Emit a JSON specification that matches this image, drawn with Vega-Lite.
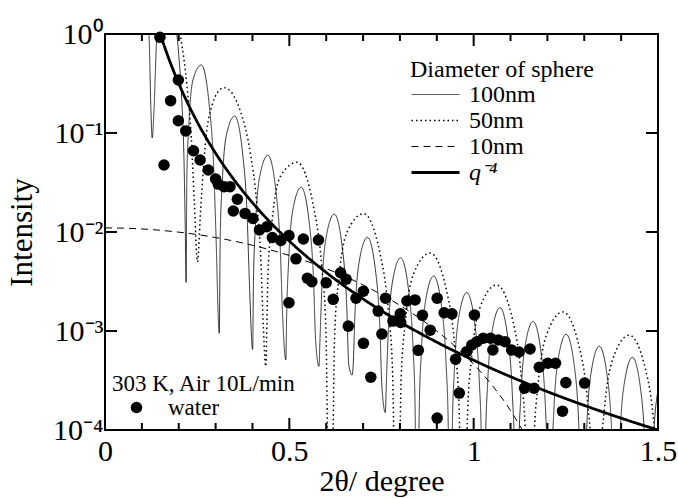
{
"$schema":"https://vega.github.io/schema/vega-lite/v6.json",
"width":553,"height":396,
"autosize":{"type":"none"},
"padding":{"left":105,"top":34,"right":20,"bottom":69},
"background":"white",
"config":{
 "view":{"stroke":"black","strokeWidth":2},
 "font":"Liberation Serif, Times New Roman, serif",
 "axis":{"grid":false,"domain":false,"ticks":false,"labelColor":"black","titleColor":"black","labelFont":"Liberation Serif, Times New Roman, serif","titleFont":"Liberation Serif, Times New Roman, serif","titleFontWeight":"normal","labelFlush":false,"labelOverlap":false},
 "legend":{"labelFont":"Liberation Serif, Times New Roman, serif","titleFont":"Liberation Serif, Times New Roman, serif","titleFontWeight":"normal","labelColor":"black","titleColor":"black","padding":0,"titleLimit":600,"labelLimit":600}
},
"datasets":{
"curves":[
{"x":0.100,"y":15.9,"s":"100nm"},{"x":0.1143,"y":2.87,"s":"100nm"},{"x":0.120,"y":0.875,"s":"100nm"},{"x":0.1243,"y":0.186,"s":"100nm"},{"x":0.128,"y":0.089,"s":"100nm"},{"x":0.1329,"y":0.171,"s":"100nm"},{"x":0.140,"y":0.885,"s":"100nm"},{"x":0.1486,"y":1.90,"s":"100nm"},{"x":0.1646,"y":2.8,"s":"100nm"},{"x":0.1857,"y":1.70,"s":"100nm"},{"x":0.200,"y":0.618,"s":"100nm"},{"x":0.2086,"y":0.201,"s":"100nm"},{"x":0.2143,"y":0.0528,"s":"100nm"},{"x":0.2177,"y":0.0111,"s":"100nm"},{"x":0.2200,"y":0.0031,"s":"100nm"},
{"x":0.22196,"y":0.0351,"s":"100nm"},{"x":0.22757,"y":0.1225,"s":"100nm"},{"x":0.2388,"y":0.3464,"s":"100nm"},{"x":0.26125,"y":0.4868,"s":"100nm"},{"x":0.2837,"y":0.1761,"s":"100nm"},{"x":0.29493,"y":0.04428,"s":"100nm"},{"x":0.30054,"y":0.01069,"s":"100nm"},
{"x":0.3100,"y":0.00095,"s":"100nm"},
{"x":0.31248,"y":0.00877,"s":"100nm"},{"x":0.31809,"y":0.03167,"s":"100nm"},{"x":0.32932,"y":0.0953,"s":"100nm"},{"x":0.35177,"y":0.1482,"s":"100nm"},{"x":0.37422,"y":0.05763,"s":"100nm"},{"x":0.38545,"y":0.01489,"s":"100nm"},{"x":0.39106,"y":0.003632,"s":"100nm"},
{"x":0.4005,"y":0.00065,"s":"100nm"},
{"x":0.40269,"y":0.003218,"s":"100nm"},{"x":0.4083,"y":0.01177,"s":"100nm"},{"x":0.41953,"y":0.03636,"s":"100nm"},{"x":0.44198,"y":0.05948,"s":"100nm"},{"x":0.46443,"y":0.02433,"s":"100nm"},{"x":0.47566,"y":0.006446,"s":"100nm"},{"x":0.48127,"y":0.001593,"s":"100nm"},
{"x":0.4905,"y":0.00051,"s":"100nm"},
{"x":0.49275,"y":0.001444,"s":"100nm"},{"x":0.49836,"y":0.00533,"s":"100nm"},{"x":0.50959,"y":0.01674,"s":"100nm"},{"x":0.53204,"y":0.02833,"s":"100nm"},{"x":0.55449,"y":0.01198,"s":"100nm"},{"x":0.56572,"y":0.003227,"s":"100nm"},{"x":0.57133,"y":0.000804,"s":"100nm"},
{"x":0.5805,"y":0.00044,"s":"100nm"},
{"x":0.58273,"y":0.000741,"s":"100nm"},{"x":0.58834,"y":0.002751,"s":"100nm"},{"x":0.59957,"y":0.008745,"s":"100nm"},{"x":0.62202,"y":0.01515,"s":"100nm"},{"x":0.64447,"y":0.006567,"s":"100nm"},{"x":0.6557,"y":0.001791,"s":"100nm"},{"x":0.66131,"y":0.000449,"s":"100nm"},
{"x":0.6705,"y":0.00036,"s":"100nm"},
{"x":0.67265,"y":0.000418,"s":"100nm"},{"x":0.67826,"y":0.001562,"s":"100nm"},{"x":0.68949,"y":0.005005,"s":"100nm"},{"x":0.71194,"y":0.008835,"s":"100nm"},{"x":0.73439,"y":0.003897,"s":"100nm"},{"x":0.74562,"y":0.001072,"s":"100nm"},{"x":0.75123,"y":0.00027,"s":"100nm"},
{"x":0.7605,"y":0.00015,"s":"100nm"},
{"x":0.76254,"y":0.0002539,"s":"100nm"},{"x":0.76815,"y":0.00095,"s":"100nm"},{"x":0.77938,"y":0.003068,"s":"100nm"},{"x":0.80183,"y":0.00549,"s":"100nm"},{"x":0.82428,"y":0.002456,"s":"100nm"},{"x":0.83551,"y":0.000681,"s":"100nm"},{"x":0.84112,"y":0.000172,"s":"100nm"},
{"x":0.84676,"y":0.000001,"s":"100nm"},
{"x":0.8524,"y":0.0001629,"s":"100nm"},{"x":0.85801,"y":0.000611,"s":"100nm"},{"x":0.86924,"y":0.001985,"s":"100nm"},{"x":0.89169,"y":0.003591,"s":"100nm"},{"x":0.91414,"y":0.001624,"s":"100nm"},{"x":0.92537,"y":0.0004525,"s":"100nm"},{"x":0.93098,"y":0.0001146,"s":"100nm"},
{"x":0.93661,"y":0.000001,"s":"100nm"},
{"x":0.94224,"y":0.0001091,"s":"100nm"},{"x":0.94785,"y":0.0004103,"s":"100nm"},{"x":0.95908,"y":0.001339,"s":"100nm"},{"x":0.98153,"y":0.002444,"s":"100nm"},{"x":1.00398,"y":0.001116,"s":"100nm"},{"x":1.01521,"y":0.0003123,"s":"100nm"},{"x":1.02082,"y":0.0000794,"s":"100nm"},
{"x":1.02645,"y":0.000001,"s":"100nm"},
{"x":1.03207,"y":0.0000759,"s":"100nm"},{"x":1.03768,"y":0.000286,"s":"100nm"},{"x":1.04891,"y":0.000936,"s":"100nm"},{"x":1.07136,"y":0.001723,"s":"100nm"},{"x":1.09381,"y":0.000793,"s":"100nm"},{"x":1.10504,"y":0.0002227,"s":"100nm"},{"x":1.11065,"y":0.0000567,"s":"100nm"},
{"x":1.11627,"y":0.000001,"s":"100nm"},
{"x":1.12189,"y":0.0000544,"s":"100nm"},{"x":1.1275,"y":0.0002052,"s":"100nm"},{"x":1.13873,"y":0.000674,"s":"100nm"},{"x":1.16118,"y":0.001248,"s":"100nm"},{"x":1.18363,"y":0.000578,"s":"100nm"},{"x":1.19486,"y":0.0001629,"s":"100nm"},{"x":1.20047,"y":0.0000415,"s":"100nm"},
{"x":1.20609,"y":0.000001,"s":"100nm"},
{"x":1.2117,"y":0.00004,"s":"100nm"},{"x":1.21731,"y":0.0001511,"s":"100nm"},{"x":1.22854,"y":0.000498,"s":"100nm"},{"x":1.25099,"y":0.000927,"s":"100nm"},{"x":1.27344,"y":0.000432,"s":"100nm"},{"x":1.28467,"y":0.0001219,"s":"100nm"},{"x":1.29028,"y":0.0000311,"s":"100nm"},
{"x":1.29589,"y":0.000001,"s":"100nm"},
{"x":1.3015,"y":0.00003,"s":"100nm"},{"x":1.30711,"y":0.0001137,"s":"100nm"},{"x":1.31834,"y":0.0003756,"s":"100nm"},{"x":1.34079,"y":0.000702,"s":"100nm"},{"x":1.36324,"y":0.0003289,"s":"100nm"},{"x":1.37447,"y":0.0000931,"s":"100nm"},{"x":1.38008,"y":0.0000238,"s":"100nm"},
{"x":1.38569,"y":0.000001,"s":"100nm"},
{"x":1.3913,"y":0.000023,"s":"100nm"},{"x":1.39691,"y":0.0000872,"s":"100nm"},{"x":1.40814,"y":0.0002885,"s":"100nm"},{"x":1.43059,"y":0.000542,"s":"100nm"},{"x":1.45304,"y":0.0002545,"s":"100nm"},{"x":1.46427,"y":0.0000723,"s":"100nm"},{"x":1.46988,"y":0.0000185,"s":"100nm"},
{"x":1.47549,"y":0.000001,"s":"100nm"},
{"x":1.48109,"y":0.0000179,"s":"100nm"},{"x":1.4867,"y":0.000068,"s":"100nm"},{"x":1.49793,"y":0.0002253,"s":"100nm"},{"x":1.52038,"y":0.000424,"s":"100nm"},

{"x":0.174,"y":3.48,"s":"50nm"},{"x":0.194,"y":1.623,"s":"50nm"},{"x":0.2054,"y":0.923,"s":"50nm"},{"x":0.2226,"y":0.2933,"s":"50nm"},{"x":0.234,"y":0.0895,"s":"50nm"},{"x":0.2426,"y":0.01906,"s":"50nm"},{"x":0.2507,"y":0.005,"s":"50nm"},{"x":0.2597,"y":0.01745,"s":"50nm"},{"x":0.274,"y":0.0905,"s":"50nm"},{"x":0.2911,"y":0.1942,"s":"50nm"},{"x":0.3026,"y":0.2478,"s":"50nm"},{"x":0.3231,"y":0.287,"s":"50nm"},{"x":0.3426,"y":0.2582,"s":"50nm"},{"x":0.3654,"y":0.1737,"s":"50nm"},{"x":0.394,"y":0.0632,"s":"50nm"},{"x":0.4111,"y":0.02058,"s":"50nm"},{"x":0.4226,"y":0.0054,"s":"50nm"},{"x":0.4294,"y":0.001136,"s":"50nm"},{"x":0.436,"y":0.00044,"s":"50nm"},
{"x":0.44196,"y":0.003702,"s":"50nm"},{"x":0.45318,"y":0.01288,"s":"50nm"},{"x":0.47562,"y":0.03625,"s":"50nm"},{"x":0.5205,"y":0.05055,"s":"50nm"},{"x":0.56538,"y":0.01815,"s":"50nm"},{"x":0.58782,"y":0.00455,"s":"50nm"},{"x":0.59904,"y":0.001097,"s":"50nm"},
{"x":0.61102,"y":0.000001,"s":"50nm"},
{"x":0.62299,"y":0.000935,"s":"50nm"},{"x":0.63421,"y":0.003354,"s":"50nm"},{"x":0.65665,"y":0.009973,"s":"50nm"},{"x":0.70153,"y":0.01532,"s":"50nm"},{"x":0.74641,"y":0.005977,"s":"50nm"},{"x":0.76885,"y":0.001557,"s":"50nm"},{"x":0.78007,"y":0.000382,"s":"50nm"},
{"x":0.79175,"y":0.000001,"s":"50nm"},
{"x":0.80342,"y":0.0003386,"s":"50nm"},{"x":0.81464,"y":0.001233,"s":"50nm"},{"x":0.83708,"y":0.003778,"s":"50nm"},{"x":0.88196,"y":0.006133,"s":"50nm"},{"x":0.92684,"y":0.002515,"s":"50nm"},{"x":0.94928,"y":0.000669,"s":"50nm"},{"x":0.9605,"y":0.0001661,"s":"50nm"},
{"x":0.97203,"y":0.000001,"s":"50nm"},
{"x":0.98355,"y":0.0001508,"s":"50nm"},{"x":0.99477,"y":0.0005547,"s":"50nm"},{"x":1.01721,"y":0.001732,"s":"50nm"},{"x":1.06209,"y":0.002915,"s":"50nm"},{"x":1.10697,"y":0.001235,"s":"50nm"},{"x":1.12941,"y":0.0003341,"s":"50nm"},{"x":1.14063,"y":0.0000835,"s":"50nm"},
{"x":1.15207,"y":0.000001,"s":"50nm"},
{"x":1.1635,"y":0.000077,"s":"50nm"},{"x":1.17472,"y":0.0002852,"s":"50nm"},{"x":1.19716,"y":0.000903,"s":"50nm"},{"x":1.24204,"y":0.001559,"s":"50nm"},{"x":1.28692,"y":0.000676,"s":"50nm"},{"x":1.30936,"y":0.0001849,"s":"50nm"},{"x":1.32058,"y":0.0000464,"s":"50nm"},
{"x":1.33196,"y":0.000001,"s":"50nm"},
{"x":1.34334,"y":0.0000434,"s":"50nm"},{"x":1.35456,"y":0.0001614,"s":"50nm"},{"x":1.377,"y":0.000516,"s":"50nm"},{"x":1.42188,"y":0.000907,"s":"50nm"},{"x":1.46676,"y":0.000401,"s":"50nm"},{"x":1.4892,"y":0.0001105,"s":"50nm"},{"x":1.50042,"y":0.0000279,"s":"50nm"},
{"x":1.51177,"y":0.000001,"s":"50nm"},

{"x":0,"y":0.011,"s":"10nm"},{"x":0.05,"y":0.010933,"s":"10nm"},{"x":0.1,"y":0.010733,"s":"10nm"},{"x":0.15,"y":0.010408,"s":"10nm"},{"x":0.2,"y":0.009966,"s":"10nm"},{"x":0.25,"y":0.009422,"s":"10nm"},{"x":0.3,"y":0.008792,"s":"10nm"},{"x":0.35,"y":0.008093,"s":"10nm"},{"x":0.4,"y":0.007347,"s":"10nm"},{"x":0.45,"y":0.006572,"s":"10nm"},{"x":0.5,"y":0.005788,"s":"10nm"},{"x":0.6,"y":0.00427,"s":"10nm"},{"x":0.7,"y":0.002918,"s":"10nm"},{"x":0.8,"y":0.001816,"s":"10nm"},{"x":0.85,"y":0.001372,"s":"10nm"},{"x":0.9,"y":0.001,"s":"10nm"},{"x":0.95,"y":0.000698,"s":"10nm"},{"x":1.0,"y":0.0004613,"s":"10nm"},{"x":1.05,"y":0.0002835,"s":"10nm"},{"x":1.1,"y":0.0001571,"s":"10nm"},{"x":1.15,"y":0.0000739,"s":"10nm"},{"x":1.2,"y":0.00002544,"s":"10nm"},

{"x":0.15,"y":0.9995,"s":"q⁻⁴"},{"x":0.16,"y":0.7721,"s":"q⁻⁴"},{"x":0.175,"y":0.5395,"s":"q⁻⁴"},{"x":0.19,"y":0.3883,"s":"q⁻⁴"},{"x":0.2,"y":0.3163,"s":"q⁻⁴"},{"x":0.225,"y":0.1974,"s":"q⁻⁴"},{"x":0.25,"y":0.1295,"s":"q⁻⁴"},{"x":0.275,"y":0.08848,"s":"q⁻⁴"},{"x":0.3,"y":0.06247,"s":"q⁻⁴"},{"x":0.35,"y":0.03372,"s":"q⁻⁴"},{"x":0.4,"y":0.01977,"s":"q⁻⁴"},{"x":0.45,"y":0.01234,"s":"q⁻⁴"},{"x":0.5,"y":0.008096,"s":"q⁻⁴"},{"x":0.6,"y":0.003904,"s":"q⁻⁴"},{"x":0.7,"y":0.002107,"s":"q⁻⁴"},{"x":0.8,"y":0.001235,"s":"q⁻⁴"},{"x":0.9,"y":0.0007712,"s":"q⁻⁴"},{"x":1.0,"y":0.000506,"s":"q⁻⁴"},{"x":1.1,"y":0.0003456,"s":"q⁻⁴"},{"x":1.2,"y":0.000244,"s":"q⁻⁴"},{"x":1.3,"y":0.0001772,"s":"q⁻⁴"},{"x":1.4,"y":0.0001317,"s":"q⁻⁴"},{"x":1.5,"y":0.00009995,"s":"q⁻⁴"}
],
"water":[
{"x":0.149,"y":0.926,"sample":"water"},{"x":0.199,"y":0.343,"sample":"water"},{"x":0.178,"y":0.212,"sample":"water"},{"x":0.199,"y":0.133,"sample":"water"},{"x":0.219,"y":0.105,"sample":"water"},{"x":0.160,"y":0.0475,"sample":"water"},{"x":0.240,"y":0.0662,"sample":"water"},{"x":0.258,"y":0.0534,"sample":"water"},{"x":0.280,"y":0.0423,"sample":"water"},{"x":0.300,"y":0.0343,"sample":"water"},{"x":0.307,"y":0.0305,"sample":"water"},{"x":0.323,"y":0.0287,"sample":"water"},{"x":0.339,"y":0.0287,"sample":"water"},{"x":0.359,"y":0.0214,"sample":"water"},{"x":0.348,"y":0.0163,"sample":"water"},{"x":0.380,"y":0.0154,"sample":"water"},{"x":0.401,"y":0.0137,"sample":"water"},{"x":0.419,"y":0.0105,"sample":"water"},{"x":0.439,"y":0.0113,"sample":"water"},{"x":0.454,"y":0.00879,"sample":"water"},{"x":0.477,"y":0.0082,"sample":"water"},{"x":0.499,"y":0.00922,"sample":"water"},{"x":0.538,"y":0.0085,"sample":"water"},{"x":0.579,"y":0.0083,"sample":"water"},{"x":0.518,"y":0.00536,"sample":"water"},{"x":0.499,"y":0.00193,"sample":"water"},{"x":0.549,"y":0.00341,"sample":"water"},{"x":0.561,"y":0.00315,"sample":"water"},{"x":0.600,"y":0.00307,"sample":"water"},{"x":0.619,"y":0.00209,"sample":"water"},{"x":0.639,"y":0.00388,"sample":"water"},{"x":0.654,"y":0.00333,"sample":"water"},{"x":0.660,"y":0.00112,"sample":"water"},{"x":0.681,"y":0.00214,"sample":"water"},{"x":0.701,"y":0.00252,"sample":"water"},{"x":0.701,"y":0.000751,"sample":"water"},{"x":0.721,"y":0.000341,"sample":"water"},{"x":0.741,"y":0.00159,"sample":"water"},{"x":0.751,"y":0.000933,"sample":"water"},{"x":0.761,"y":0.00214,"sample":"water"},{"x":0.781,"y":0.00126,"sample":"water"},{"x":0.801,"y":0.00149,"sample":"water"},{"x":0.802,"y":0.00122,"sample":"water"},{"x":0.819,"y":0.00201,"sample":"water"},{"x":0.841,"y":0.00206,"sample":"water"},{"x":0.850,"y":0.000638,"sample":"water"},{"x":0.861,"y":0.00144,"sample":"water"},{"x":0.882,"y":0.00102,"sample":"water"},{"x":0.901,"y":0.00214,"sample":"water"},{"x":0.901,"y":0.000132,"sample":"water"},{"x":0.920,"y":0.00153,"sample":"water"},{"x":0.941,"y":0.00149,"sample":"water"},{"x":0.951,"y":0.000518,"sample":"water"},{"x":0.961,"y":0.000236,"sample":"water"},{"x":0.981,"y":0.000618,"sample":"water"},{"x":0.995,"y":0.000722,"sample":"water"},{"x":1.002,"y":0.00145,"sample":"water"},{"x":1.009,"y":0.00078,"sample":"water"},{"x":1.026,"y":0.000844,"sample":"water"},{"x":1.046,"y":0.000844,"sample":"water"},{"x":1.052,"y":0.000643,"sample":"water"},{"x":1.067,"y":0.000811,"sample":"water"},{"x":1.085,"y":0.00078,"sample":"water"},{"x":1.103,"y":0.000643,"sample":"water"},{"x":1.123,"y":0.000614,"sample":"water"},{"x":1.153,"y":0.000658,"sample":"water"},{"x":1.138,"y":0.000264,"sample":"water"},{"x":1.164,"y":0.000264,"sample":"water"},{"x":1.178,"y":0.00043,"sample":"water"},{"x":1.201,"y":0.000472,"sample":"water"},{"x":1.222,"y":0.000472,"sample":"water"},{"x":1.250,"y":0.000301,"sample":"water"},{"x":1.241,"y":0.000155,"sample":"water"},{"x":1.301,"y":0.000298,"sample":"water"}
],
"xmajor":[{"t":0.5,"lo":0.0001,"hi":1},{"t":1,"lo":0.0001,"hi":1}],
"xminor":[{"t":0.1,"lo":0.0001,"hi":1},{"t":0.2,"lo":0.0001,"hi":1},{"t":0.3,"lo":0.0001,"hi":1},{"t":0.4,"lo":0.0001,"hi":1},{"t":0.6,"lo":0.0001,"hi":1},{"t":0.7,"lo":0.0001,"hi":1},{"t":0.8,"lo":0.0001,"hi":1},{"t":0.9,"lo":0.0001,"hi":1},{"t":1.1,"lo":0.0001,"hi":1},{"t":1.2,"lo":0.0001,"hi":1},{"t":1.3,"lo":0.0001,"hi":1},{"t":1.4,"lo":0.0001,"hi":1}],
"ydec":[{"v":0.001,"l":0,"r":1.5},{"v":0.01,"l":0,"r":1.5},{"v":0.1,"l":0,"r":1.5}]
},
"layer":[
{
 "data":{"name":"curves"},
 "mark":{"type":"line","clip":true,"color":"black","interpolate":"monotone"},
 "encoding":{
  "x":{"field":"x","type":"quantitative","scale":{"domain":[0,1.5],"nice":false,"zero":false},
   "axis":{"orient":"bottom","values":[0,0.5,1,1.5],"format":"~g","labelPadding":6,"labelFontSize":30,"title":"2θ/ degree","titleFontSize":30,"titlePadding":0}},
  "y":{"field":"y","type":"quantitative","scale":{"type":"log","domain":[0.0001,1],"nice":false},
   "axis":{"orient":"left","values":[0.0001,0.001,0.01,0.1,1],"labelExpr":"datum.value >= 0.5 ? '10⁰' : datum.value >= 0.05 ? '10⁻¹' : datum.value >= 0.005 ? '10⁻²' : datum.value >= 0.0005 ? '10⁻³' : '10⁻⁴'","labelPadding":2,"labelFontSize":30,"title":"Intensity","titleFontSize":31,"titlePadding":14}},
  "strokeDash":{"field":"s","type":"ordinal","scale":{"domain":["100nm","50nm","10nm","q⁻⁴"],"range":[[1,0],[1.5,3],[7,5],[1,0]]},
   "legend":{"title":"Diameter of sphere","orient":"none","legendX":305,"legendY":24,"symbolType":"stroke","symbolSize":2304,"symbolStrokeColor":"black","clipHeight":23,"rowPadding":1,"labelOffset":8,"labelFontSize":24,"titleFontSize":24,"titlePadding":1,"titleLimit":600,"labelLimit":600,"encode":{"labels":{"update":{"fontStyle":{"signal":"datum.label === 'q⁻⁴' ? 'italic' : 'normal'"}}}}}},
  "strokeWidth":{"field":"s","type":"ordinal","scale":{"type":"ordinal","domain":["100nm","50nm","10nm","q⁻⁴"],"range":[0.8,1.5,1,2.8]},
   "legend":{"title":"Diameter of sphere","orient":"none","legendX":305,"legendY":24,"symbolType":"stroke","symbolSize":2304,"symbolStrokeColor":"black","clipHeight":23,"rowPadding":1,"labelOffset":8,"labelFontSize":24,"titleFontSize":24,"titlePadding":1,"titleLimit":600,"labelLimit":600,"encode":{"labels":{"update":{"fontStyle":{"signal":"datum.label === 'q⁻⁴' ? 'italic' : 'normal'"}}}}}}
 }
},
{
 "data":{"name":"water"},
 "mark":{"type":"point","filled":true,"color":"black","size":133,"opacity":1},
 "encoding":{
  "x":{"field":"x","type":"quantitative","scale":{"domain":[0,1.5],"nice":false,"zero":false},"axis":null},
  "y":{"field":"y","type":"quantitative","scale":{"type":"log","domain":[0.0001,1],"nice":false},"axis":null},
  "shape":{"field":"sample","type":"nominal","scale":{"range":["circle"]},
   "legend":{"title":"303 K, Air 10L/min","orient":"none","legendX":7,"legendY":339,"symbolSize":133,"symbolFillColor":"black","symbolStrokeColor":"black","symbolOffset":13,"labelOffset":20,"clipHeight":23,"labelFontSize":23,"titleFontSize":23,"titlePadding":0,"titleLimit":600,"labelLimit":600}}
 }
},
{
 "data":{"name":"xmajor"},
 "mark":{"type":"point","shape":"M0,0L0,-2","size":144,"filled":false,"color":"black","strokeWidth":2,"opacity":1},
 "encoding":{
  "x":{"field":"t","type":"quantitative","axis":null},
  "y":{"field":"lo","type":"quantitative","axis":null}
 }
},
{
 "data":{"name":"xmajor"},
 "mark":{"type":"point","shape":"M0,0L0,2","size":144,"filled":false,"color":"black","strokeWidth":2,"opacity":1},
 "encoding":{
  "x":{"field":"t","type":"quantitative","axis":null},
  "y":{"field":"hi","type":"quantitative","axis":null}
 }
},
{
 "data":{"name":"xminor"},
 "mark":{"type":"point","shape":"M0,0L0,-2","size":49,"filled":false,"color":"black","strokeWidth":2,"opacity":1},
 "encoding":{
  "x":{"field":"t","type":"quantitative","axis":null},
  "y":{"field":"lo","type":"quantitative","axis":null}
 }
},
{
 "data":{"name":"xminor"},
 "mark":{"type":"point","shape":"M0,0L0,2","size":49,"filled":false,"color":"black","strokeWidth":2,"opacity":1},
 "encoding":{
  "x":{"field":"t","type":"quantitative","axis":null},
  "y":{"field":"hi","type":"quantitative","axis":null}
 }
},
{
 "data":{"name":"ydec"},
 "mark":{"type":"point","shape":"M0,0L2,0","size":144,"filled":false,"color":"black","strokeWidth":2,"opacity":1},
 "encoding":{
  "y":{"field":"v","type":"quantitative","axis":null},
  "x":{"field":"l","type":"quantitative","axis":null}
 }
},
{
 "data":{"name":"ydec"},
 "mark":{"type":"point","shape":"M0,0L-2,0","size":144,"filled":false,"color":"black","strokeWidth":2,"opacity":1},
 "encoding":{
  "y":{"field":"v","type":"quantitative","axis":null},
  "x":{"field":"r","type":"quantitative","axis":null}
 }
}
],
"resolve":{"axis":{"x":"independent","y":"independent"}}
}
